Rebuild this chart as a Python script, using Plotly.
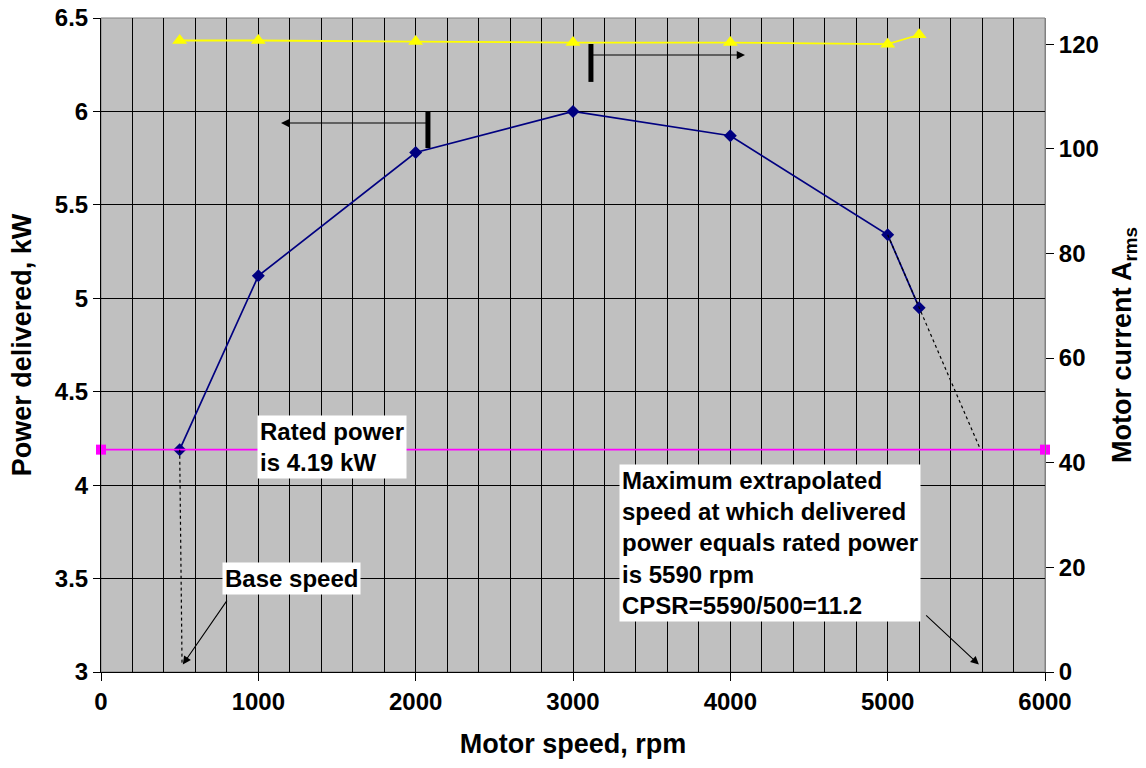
import plotly.graph_objects as go

# Measured operating points
speed_rpm = [500, 1000, 2000, 3000, 4000, 5000, 5200]
power_kw = [4.19, 5.12, 5.78, 6.00, 5.87, 5.34, 4.95]
current_arms = [120.7, 120.7, 120.5, 120.3, 120.3, 120.0, 121.8]

# Reference quantities
rated_power_kw = 4.19
rated_span_rpm = [0, 6000]
base_speed_rpm = 500
max_speed_rpm = 5590

x_ticks = [0, 1000, 2000, 3000, 4000, 5000, 6000]
power_ticks = [3, 3.5, 4, 4.5, 5, 5.5, 6, 6.5]
current_ticks = [0, 20, 40, 60, 80, 100, 120]

FONT = "Liberation Sans, Arial, sans-serif"
BG = "#C0C0C0"

fig = go.Figure()

# Power curve (left axis)
fig.add_trace(go.Scatter(
    x=speed_rpm, y=power_kw, mode="lines+markers",
    line=dict(color="#000080", width=1.7),
    marker=dict(symbol="diamond", size=10, color="#000080"),
    cliponaxis=False, hoverinfo="skip", showlegend=False,
))

# Motor current (right axis)
fig.add_trace(go.Scatter(
    x=speed_rpm, y=current_arms, mode="lines+markers", yaxis="y2",
    line=dict(color="#FFFF00", width=1.8),
    marker=dict(symbol="triangle-up", size=13, color="#FFFF00"),
    cliponaxis=False, hoverinfo="skip", showlegend=False,
))

# Rated power level
fig.add_trace(go.Scatter(
    x=rated_span_rpm, y=[rated_power_kw] * len(rated_span_rpm),
    mode="lines+markers",
    line=dict(color="#FF00FF", width=1.7),
    marker=dict(symbol="square", size=10, color="#FF00FF"),
    cliponaxis=False, hoverinfo="skip", showlegend=False,
))

# Extrapolation of the falling power curve down to rated power
fig.add_trace(go.Scatter(
    x=[speed_rpm[-2], max_speed_rpm], y=[power_kw[-2], rated_power_kw],
    mode="lines", line=dict(color="black", width=1.2, dash="3px,3px"),
    hoverinfo="skip", showlegend=False,
))

# Drop line from the base-speed point
fig.add_trace(go.Scatter(
    x=[base_speed_rpm, base_speed_rpm + 15], y=[rated_power_kw, 3.05],
    mode="lines", line=dict(color="black", width=1.2, dash="3px,3px"),
    hoverinfo="skip", showlegend=False,
))

text_font = dict(family=FONT, size=24, color="black", weight="bold")

annotations = [
    # Text boxes
    dict(x=991, y=4.375, xref="x", yref="y", xanchor="left", yanchor="top",
         text="Rated power<br>is 4.19 kW", align="left", showarrow=False,
         bgcolor="white", borderpad=2, font=text_font),
    dict(x=769, y=3.589, xref="x", yref="y", xanchor="left", yanchor="top",
         text="Base speed", align="left", showarrow=False,
         bgcolor="white", borderpad=2, font=text_font),
    dict(x=3292, y=4.113, xref="x", yref="y", xanchor="left", yanchor="top",
         text=("Maximum extrapolated<br>speed at which delivered<br>"
               "power equals rated power<br>is 5590 rpm<br>CPSR=5590/500=11.2"),
         align="left", showarrow=False, bgcolor="white", borderpad=2,
         font=text_font),
    # Pointer arrows from the boxes
    dict(x=base_speed_rpm + 20, y=3.04, ax=807, ay=3.39, xref="x", yref="y",
         axref="x", ayref="y", text="", showarrow=True, arrowhead=2,
         arrowsize=1.5, arrowwidth=1.1, arrowcolor="black", standoff=0,
         startstandoff=0),
    dict(x=max_speed_rpm - 10, y=3.04, ax=5235, ay=3.31, xref="x", yref="y",
         axref="x", ayref="y", text="", showarrow=True, arrowhead=2,
         arrowsize=1.5, arrowwidth=1.1, arrowcolor="black", standoff=0,
         startstandoff=0),
    # Series-to-axis indicators
    dict(x=1144, y=5.938, ax=2078, ay=5.938, xref="x", yref="y",
         axref="x", ayref="y", text="", showarrow=True, arrowhead=2,
         arrowsize=1.5, arrowwidth=1.1, arrowcolor="black", standoff=0,
         startstandoff=0),
    dict(x=4093, y=6.302, ax=3114, ay=6.302, xref="x", yref="y",
         axref="x", ayref="y", text="", showarrow=True, arrowhead=2,
         arrowsize=1.5, arrowwidth=1.1, arrowcolor="black", standoff=0,
         startstandoff=0),
]

shapes = [
    # Plot-area frame
    dict(type="rect", xref="paper", yref="paper", x0=0, x1=1, y0=0, y1=1,
         line=dict(color="#808080", width=1), layer="below"),
    # Indicator bars
    dict(type="line", xref="x", yref="y", x0=2078, x1=2078, y0=5.804, y1=5.997,
         line=dict(color="black", width=5)),
    dict(type="line", xref="x", yref="y", x0=3114, x1=3114, y0=6.158, y1=6.361,
         line=dict(color="black", width=5)),
]

tick_font = dict(family=FONT, size=24, color="black", weight="bold")
title_font = dict(family=FONT, size=27, color="black", weight="bold")

fig.update_layout(
    width=1146, height=768,
    margin=dict(l=101, r=101, t=18, b=96, autoexpand=False),
    paper_bgcolor="white", plot_bgcolor=BG,
    font=dict(family=FONT, color="black"),
    showlegend=False,
    annotations=annotations, shapes=shapes,
    xaxis=dict(
        range=[0, 6000], tickvals=x_ticks, ticktext=[str(v) for v in x_ticks],
        ticks="outside", ticklen=8, tickcolor="black", tickwidth=1,
        showline=True, linecolor="black", linewidth=1,
        showgrid=False, zeroline=False, automargin=False,
        minor=dict(dtick=200, tick0=0, showgrid=True, gridcolor="black",
                   gridwidth=1, ticks=""),
        tickfont=tick_font,
        title=dict(text="Motor speed, rpm", font=title_font, standoff=20),
    ),
    yaxis=dict(
        range=[3, 6.5], tickvals=power_ticks,
        ticktext=["3", "3.5", "4", "4.5", "5", "5.5", "6", "6.5"],
        ticks="outside", ticklen=7, tickcolor="black", tickwidth=1,
        showline=True, linecolor="black", linewidth=1,
        showgrid=True, gridcolor="black", gridwidth=1, zeroline=False,
        automargin=False, tickfont=tick_font,
        title=dict(text="Power delivered, kW", font=title_font, standoff=15),
    ),
    yaxis2=dict(
        range=[0, 125], tickvals=current_ticks, overlaying="y", side="right",
        ticks="outside", ticklen=8, tickcolor="black", tickwidth=1,
        showline=True, linecolor="#808080", linewidth=1,
        showgrid=False, zeroline=False, automargin=False,
        tickfont=tick_font,
        title=dict(text="Motor current A<sub>rms</sub>", font=title_font,
                   standoff=14),
    ),
)

fig.write_html("out.html")
